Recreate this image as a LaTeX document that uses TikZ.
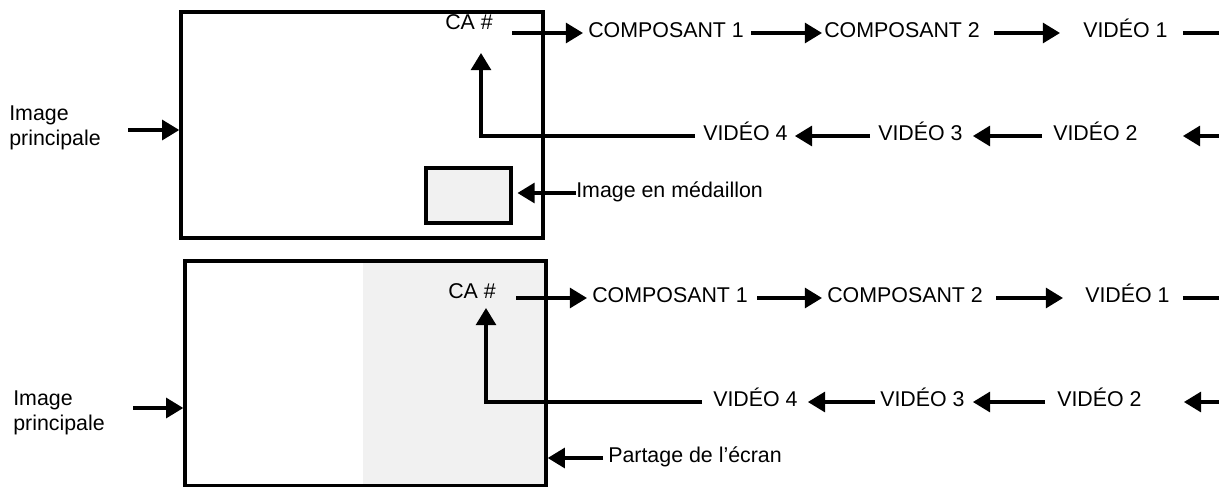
\documentclass[tikz,border=0pt]{standalone}
\usepackage{fontspec}
\setmainfont{Liberation Sans}
\usetikzlibrary{arrows.meta}
\definecolor{panelgray}{RGB}{241,241,241}

\begin{document}
\begin{tikzpicture}[x=0.025cm, y=-0.025cm,
    txt/.style={inner sep=0, anchor=west, font=\fontsize{15.2pt}{17.8pt}\selectfont, text height=10.9pt, text depth=4.5pt},
    side/.style={inner sep=0, anchor=west, align=left, font=\fontsize{15.2pt}{17.8pt}\selectfont},
    screen/.style={draw, line width=2.4pt, inner sep=0},
    link/.style={line width=2.3pt},
    arr/.style={link, -{Triangle[length=0.43cm, width=0.5cm]}},
]
    \useasboundingbox (0,0) rectangle (1219,487);

    % top panel: picture in picture
    \node[screen, minimum width=9.05cm, minimum height=5.65cm] (s1) at (362,125) {};
    \node[screen, fill=panelgray, minimum width=2.125cm, minimum height=1.375cm] (pip) at (468.5,195.5) {};
    \node[side] (ip1) at (9,128) {Image\\principale};
    \node[txt] (med) at (576,193) {Image en médaillon};
    \node[txt] (ca1) at (445,25) {CA \#};
    \node[txt] (c11) at (588,33) {COMPOSANT 1};
    \node[txt] (c21) at (824,33) {COMPOSANT 2};
    \node[txt] (v11) at (1083,33) {VIDÉO 1};
    \node[txt] (v21) at (1053,136) {VIDÉO 2};
    \node[txt] (v31) at (878,136) {VIDÉO 3};
    \node[txt] (v41) at (703,136) {VIDÉO 4};
    \coordinate (in1) at (128,130);
    \coordinate (up1) at (481,53);
    \coordinate (e11) at (1219,33);
    \coordinate (e21) at (1219,136);

    \draw[arr] (in1) -- (in1 -| s1.west);
    \draw[arr, shorten >=0.12cm] (med.west) -- (med.west -| pip.east);
    \draw[arr, shorten <=0.475cm, shorten >=0.125cm] (ca1.east |- c11.west) -- (c11.west);
    \draw[arr, shorten <=0.175cm, shorten >=0.05cm] (c11.east) -- (c21.west);
    \draw[arr, shorten <=0.35cm, shorten >=0.575cm] (c21.east) -- (v11.west);
    \draw[link, shorten <=0.375cm] (v11.east) -- (e11);
    \draw[arr, shorten >=1.125cm] (e21) -- (v21.east);
    \draw[arr, shorten <=0.275cm, shorten >=0.25cm] (v21.west) -- (v31.east);
    \draw[arr, shorten <=0.2cm, shorten >=0.175cm] (v31.west) -- (v41.east);
    \draw[arr, shorten <=0.2cm] (v41.west) -- (v41.west -| up1) -- (up1);

    % bottom panel: split screen
    \fill[panelgray] (363,261) rectangle (546,486);
    \node[screen, minimum width=9.025cm, minimum height=5.625cm] (s2) at (365.5,373.5) {};
    \node[side] (ip2) at (13,413) {Image\\principale};
    \node[txt] (part) at (608,458) {Partage de l’écran};
    \node[txt] (ca2) at (448,294) {CA \#};
    \node[txt] (c12) at (592,298) {COMPOSANT 1};
    \node[txt] (c22) at (827,298) {COMPOSANT 2};
    \node[txt] (v12) at (1085,298) {VIDÉO 1};
    \node[txt] (v22) at (1057,402) {VIDÉO 2};
    \node[txt] (v32) at (880,402) {VIDÉO 3};
    \node[txt] (v42) at (713,402) {VIDÉO 4};
    \coordinate (in2) at (133,408);
    \coordinate (up2) at (486,308);
    \coordinate (e12) at (1219,298);
    \coordinate (e22) at (1219,402);

    \draw[arr] (in2) -- (in2 -| s2.west);
    \draw[arr, shorten <=0.125cm] (part.west) -- (part.west -| s2.east);
    \draw[arr, shorten <=0.5cm, shorten >=0.125cm] (ca2.east |- c12.west) -- (c12.west);
    \draw[arr, shorten <=0.225cm, shorten >=0.125cm] (c12.east) -- (c22.west);
    \draw[arr, shorten <=0.325cm, shorten >=0.55cm] (c22.east) -- (v12.west);
    \draw[link, shorten <=0.325cm] (v12.east) -- (e12);
    \draw[arr, shorten >=1.05cm] (e22) -- (v22.east);
    \draw[arr, shorten <=0.3cm, shorten >=0.2cm] (v22.west) -- (v32.east);
    \draw[arr, shorten <=0.125cm, shorten >=0.25cm] (v32.west) -- (v42.east);
    \draw[arr, shorten <=0.275cm] (v42.west) -- (v42.west -| up2) -- (up2);
\end{tikzpicture}
\end{document}
